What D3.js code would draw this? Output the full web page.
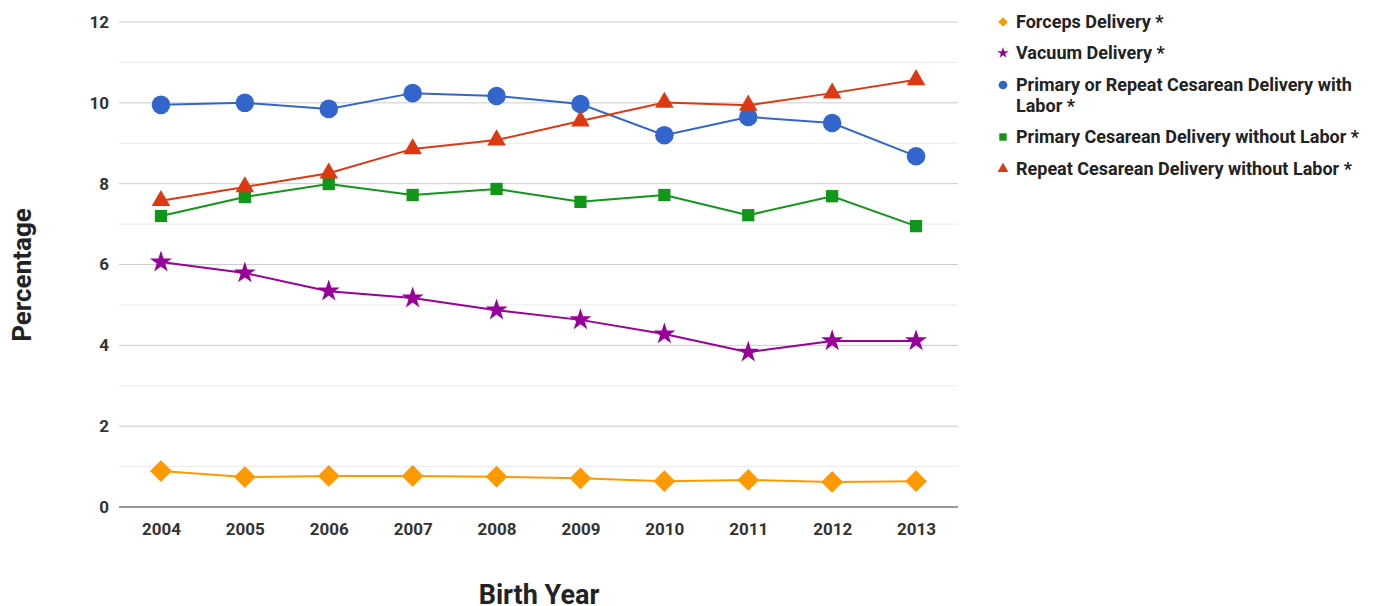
<!DOCTYPE html>
<html>
<head>
<meta charset="utf-8">
<script src="https://cdn.jsdelivr.net/npm/d3@7"></script>
<style>
  body { margin: 0; background: #fff; }
  text { font-family: Roboto, "Noto Sans", sans-serif; font-weight: bold; }
</style>
</head>
<body>
<div id="chart"></div>
<script>
// data
var years = ["2004", "2005", "2006", "2007", "2008", "2009", "2010", "2011", "2012", "2013"];
var forceps = [0.89, 0.74, 0.77, 0.77, 0.75, 0.71, 0.64, 0.67, 0.62, 0.64];
var vacuum = [6.06, 5.79, 5.34, 5.17, 4.87, 4.63, 4.28, 3.83, 4.11, 4.11];
var cesWithLabor = [9.95, 10.0, 9.85, 10.24, 10.17, 9.97, 9.2, 9.65, 9.5, 8.68];
var primaryNoLabor = [7.2, 7.67, 7.99, 7.72, 7.87, 7.55, 7.72, 7.22, 7.69, 6.95];
var repeatNoLabor = [7.58, 7.92, 8.26, 8.86, 9.08, 9.55, 10.01, 9.94, 10.24, 10.57];
var yTicks = [0, 2, 4, 6, 8, 10, 12];

var series = [
  { name: "Forceps Delivery *", values: forceps, color: "#ff9900", symbol: d3.symbolDiamond2, size: 300, legSize: 60 },
  { name: "Vacuum Delivery *", values: vacuum, color: "#990099", symbol: d3.symbolStar, size: 150, legSize: 40 },
  { name: ["Primary or Repeat Cesarean Delivery with", "Labor *"], values: cesWithLabor, color: "#3366cc", symbol: d3.symbolCircle, size: 270, legSize: 60 },
  { name: "Primary Cesarean Delivery without Labor *", values: primaryNoLabor, color: "#109618", symbol: d3.symbolSquare, size: 150, legSize: 55 },
  { name: "Repeat Cesarean Delivery without Labor *", values: repeatNoLabor, color: "#dc3912", symbol: d3.symbolTriangle, size: 150, legSize: 50 }
];

var svgWidth = 1375, svgHeight = 606;
var margin = { top: 22, left: 119 };
var width = 839, height = 485;

var svg = d3.select("#chart").append("svg")
  .attr("width", svgWidth)
  .attr("height", svgHeight);

var g = svg.append("g")
  .attr("transform", `translate(${margin.left}, ${margin.top})`);

var x = d3.scalePoint().domain(years).range([0, width]).padding(0.5);
var y = d3.scaleLinear().domain([0, 12]).range([height, 0]);

// gridlines (minor lighter)
g.selectAll(".grid")
  .data(d3.range(1, 13))
  .enter()
  .append("line")
  .attr("x1", 0).attr("x2", width)
  .attr("y1", d => y(d)).attr("y2", d => y(d))
  .attr("stroke", d => d % 2 === 0 ? "#cccccc" : "#ebebeb")
  .attr("stroke-width", 1);

// baseline
g.append("line")
  .attr("x1", 0).attr("x2", width)
  .attr("y1", y(0)).attr("y2", y(0))
  .attr("stroke", "#333").attr("stroke-width", 1.2);

// y axis labels
var leftAxis = d3.axisLeft(y).tickValues(yTicks).tickSize(0).tickPadding(10);
var yAxis = g.append("g").call(leftAxis);
yAxis.select(".domain").remove();
yAxis.selectAll("text").attr("font-size", 17).attr("fill", "#333");

// x axis labels
var bottomAxis = d3.axisBottom(x).tickSize(0).tickPadding(16);
var xAxis = g.append("g").attr("transform", `translate(0, ${height})`).call(bottomAxis);
xAxis.select(".domain").remove();
xAxis.selectAll("text").attr("font-size", 17).attr("fill", "#333");

// lines and markers
var line = d3.line().x((d, i) => x(years[i])).y(d => y(d));

series.forEach(function(s) {
  g.append("path")
    .datum(s.values)
    .attr("fill", "none")
    .attr("stroke", s.color)
    .attr("stroke-width", 2)
    .attr("d", line);

  g.selectAll(null)
    .data(s.values)
    .enter()
    .append("path")
    .attr("d", d3.symbol().type(s.symbol).size(s.size))
    .attr("transform", (d, i) => `translate(${x(years[i])}, ${y(d)})`)
    .attr("fill", s.color);
});

// axis titles
svg.append("text")
  .attr("transform", "rotate(-90)")
  .attr("x", -275)
  .attr("y", 31)
  .attr("text-anchor", "middle")
  .attr("font-size", 26)
  .attr("fill", "#222")
  .text("Percentage");

svg.append("text")
  .attr("x", 539)
  .attr("y", 604)
  .attr("text-anchor", "middle")
  .attr("font-size", 27)
  .attr("fill", "#222")
  .text("Birth Year");

// legend
var legendY = [22, 53, 85, 137, 169];
var legend = svg.append("g");
series.forEach(function(s, i) {
  var ly = legendY[i];
  legend.append("path")
    .attr("d", d3.symbol().type(s.symbol).size(s.legSize))
    .attr("transform", `translate(1003, ${ly})`)
    .attr("fill", s.color);
  var names = Array.isArray(s.name) ? s.name : [s.name];
  names.forEach(function(n, j) {
    legend.append("text")
      .attr("x", 1016)
      .attr("y", ly + j * 21)
      .attr("dy", "0.35em")
      .attr("font-size", 18)
      .attr("fill", "#222")
      .text(n);
  });
});
</script>
</body>
</html>
